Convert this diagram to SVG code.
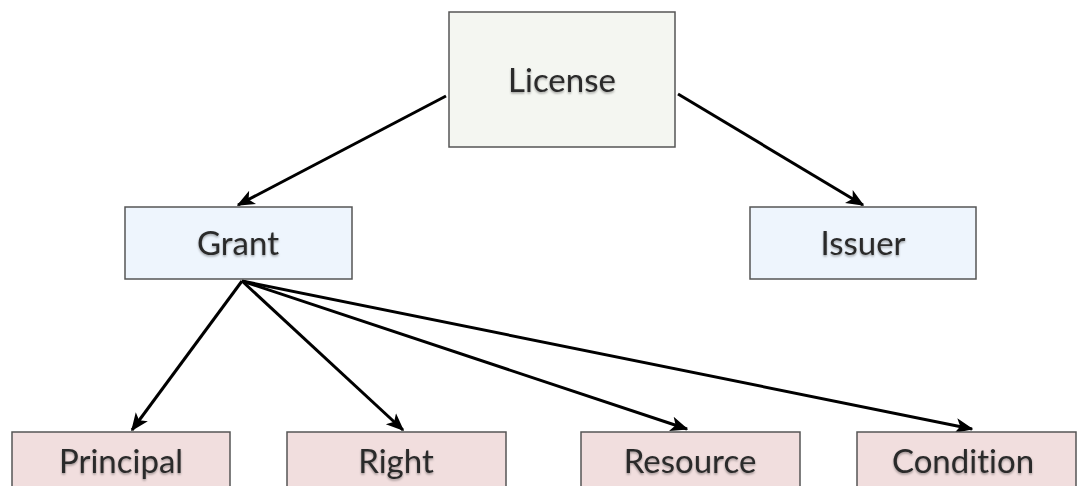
<svg xmlns="http://www.w3.org/2000/svg" width="1079" height="486" viewBox="0 0 1079 486">
<style>
.box{stroke:#555;stroke-width:1.5}
.lic{fill:#f4f6f1}
.mid{fill:#eef5fd}
.leaf{fill:#f1dede}
.lbl{font-family:"Lato","Open Sans",sans-serif;font-size:33px;fill:#2c2c2c;text-anchor:middle;font-variant-ligatures:none;filter:url(#sh)}
.edge{stroke:#000;stroke-width:3;fill:none;marker-end:url(#ah)}
</style>
<defs>
<filter id="sh" x="-10%" y="-20%" width="120%" height="150%">
<feDropShadow dx="0" dy="1.5" stdDeviation="1.2" flood-color="#000" flood-opacity="0.35"/>
</filter>
<marker id="ah" viewBox="0 0 12 10" refX="11" refY="5" markerWidth="6" markerHeight="6" orient="auto" markerUnits="strokeWidth">
<path d="M0,0 L12,5 L0,10 L3,5 Z" fill="#000"/>
</marker>
</defs>
<rect width="1079" height="486" fill="#fff"/>
<g id="connectors">
<line class="edge" x1="446" y1="96" x2="238" y2="205"/>
<line class="edge" x1="678" y1="94" x2="863" y2="205"/>
<line class="edge" x1="242" y1="281" x2="132" y2="430"/>
<line class="edge" x1="242" y1="281" x2="403" y2="430"/>
<line class="edge" x1="242" y1="281" x2="687" y2="429"/>
<line class="edge" x1="242" y1="281" x2="972" y2="429"/>
</g>
<g id="license"><rect class="box lic" x="449" y="12" width="226" height="135"/><text class="lbl" x="562" y="92">License</text></g>
<g id="grant"><rect class="box mid" x="125" y="207" width="227" height="72"/><text class="lbl" x="238" y="255">Grant</text></g>
<g id="issuer"><rect class="box mid" x="750" y="207" width="226" height="72"/><text class="lbl" x="863" y="255">Issuer</text></g>
<g id="principal"><rect class="box leaf" x="12" y="432" width="218" height="70"/><text class="lbl" x="121" y="473">Principal</text></g>
<g id="right"><rect class="box leaf" x="287" y="432" width="219" height="70"/><text class="lbl" x="396" y="473">Right</text></g>
<g id="resource"><rect class="box leaf" x="581" y="432" width="219" height="70"/><text class="lbl" x="690" y="473">Resource</text></g>
<g id="condition"><rect class="box leaf" x="857" y="432" width="219" height="70"/><text class="lbl" x="963" y="473">Condition</text></g>
</svg>
